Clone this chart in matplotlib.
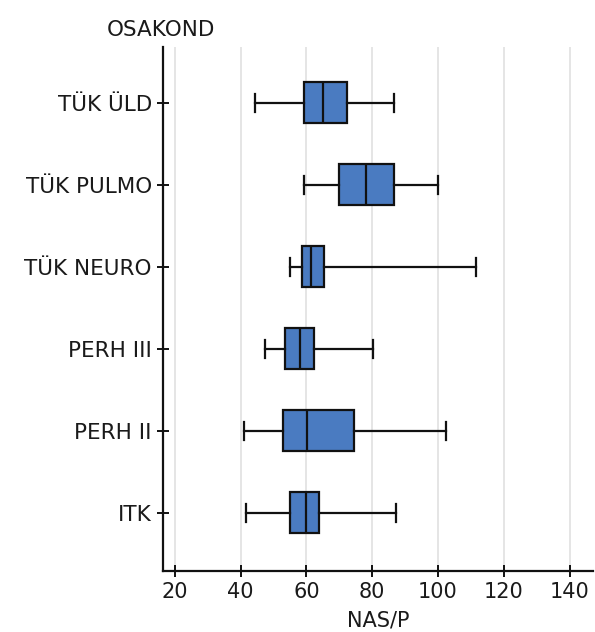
import matplotlib
matplotlib.use("Agg")
import matplotlib.pyplot as plt

categories = ["ITK", "PERH II", "PERH III", "TÜK NEURO", "TÜK PULMO", "TÜK ÜLD"]
whisker_low = [41.7, 40.9, 47.3, 55.0, 59.4, 44.4]
q1 = [54.9, 53.0, 53.6, 58.5, 70.0, 59.2]
median = [60.0, 60.1, 58.1, 61.5, 78.0, 65.1]
q3 = [63.8, 74.5, 62.4, 65.2, 86.6, 72.3]
whisker_high = [87.2, 102.3, 80.1, 111.4, 100.1, 86.5]
x_ticks = [20, 40, 60, 80, 100, 120, 140]

fig = plt.figure(figsize=(5.95, 6.32), dpi=100)
ax = fig.add_axes([0.274, 0.0965, 0.722, 0.829])

stats = []
for i, c in enumerate(categories):
    stats.append(dict(label=c, whislo=whisker_low[i], q1=q1[i], med=median[i],
                      q3=q3[i], whishi=whisker_high[i], fliers=[]))

ax.bxp(stats, positions=range(len(categories)), orientation="horizontal",
       widths=0.5, patch_artist=True, showfliers=False,
       boxprops=dict(facecolor="#4a7bc1", edgecolor="#111111", linewidth=1.6),
       medianprops=dict(color="#111111", linewidth=1.6),
       whiskerprops=dict(color="#111111", linewidth=1.6),
       capprops=dict(color="#111111", linewidth=1.6),
       capwidths=0.22, zorder=3)

ax.set_xlim(16.4, 147)
ax.set_ylim(-0.71, 5.68)
ax.set_xticks(x_ticks)
ax.set_xticklabels([str(t) for t in x_ticks])
ax.set_yticks(range(len(categories)))
ax.set_yticklabels(categories, fontsize=15.5)
ax.xaxis.grid(True, color="#e0e0e0", linewidth=1.2, zorder=0)
ax.set_axisbelow(True)
for s in ["top", "right"]:
    ax.spines[s].set_visible(False)
for s in ["left", "bottom"]:
    ax.spines[s].set_linewidth(1.6)
    ax.spines[s].set_color("#111111")
ax.tick_params(axis="both", direction="inout", length=8, width=1.4,
               labelsize=15, colors="#111111", labelcolor="#1a1a1a")
ax.tick_params(axis="y", pad=4, labelsize=15.5)
ax.tick_params(axis="x", pad=4)
ax.set_xlabel("NAS/P", fontsize=15, color="#1a1a1a", labelpad=6)
fig.text(0.271, 0.952, "OSAKOND", fontsize=15.5, ha="center", va="center",
         color="#1a1a1a")

fig.savefig("out.png", dpi=100)
